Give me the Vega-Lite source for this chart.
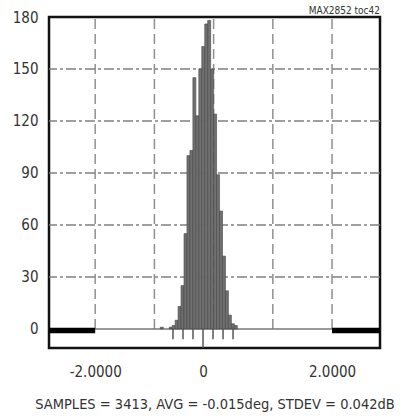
{
  "$schema": "https://vega.github.io/schema/vega-lite/v6.json",
  "width": 331,
  "height": 331,
  "autosize": "none",
  "padding": {"left": 49, "top": 17, "right": 36, "bottom": 68},
  "config": {
    "font": "DejaVu Sans Condensed, Roboto, sans-serif",
    "view": {"stroke": "#111", "strokeWidth": 2.5},
    "axis": {"labelFont": "DejaVu Sans Condensed, Roboto, sans-serif", "titleFont": "DejaVu Sans Condensed, Roboto, sans-serif"}
  },
  "title": {"text": "MAX2852 toc42", "anchor": "end", "frame": "group", "fontSize": 10, "fontWeight": "normal", "color": "#333", "offset": -6, "font": "DejaVu Sans Condensed, Roboto, sans-serif"},
  "datasets": {
    "hist": [
      {"x0": -0.90, "x1": -0.85, "count": 1},
      {"x0": -0.75, "x1": -0.70, "count": 1},
      {"x0": -0.70, "x1": -0.65, "count": 2},
      {"x0": -0.65, "x1": -0.60, "count": 5},
      {"x0": -0.60, "x1": -0.55, "count": 13},
      {"x0": -0.55, "x1": -0.50, "count": 25},
      {"x0": -0.50, "x1": -0.45, "count": 55},
      {"x0": -0.45, "x1": -0.40, "count": 100},
      {"x0": -0.40, "x1": -0.35, "count": 103},
      {"x0": -0.35, "x1": -0.30, "count": 145},
      {"x0": -0.30, "x1": -0.25, "count": 123},
      {"x0": -0.25, "x1": -0.20, "count": 150},
      {"x0": -0.20, "x1": -0.15, "count": 163},
      {"x0": -0.15, "x1": -0.10, "count": 176},
      {"x0": -0.10, "x1": -0.05, "count": 178},
      {"x0": -0.05, "x1": 0.00, "count": 150},
      {"x0": 0.00, "x1": 0.05, "count": 124},
      {"x0": 0.05, "x1": 0.10, "count": 89},
      {"x0": 0.10, "x1": 0.15, "count": 68},
      {"x0": 0.15, "x1": 0.20, "count": 42},
      {"x0": 0.20, "x1": 0.25, "count": 22},
      {"x0": 0.25, "x1": 0.30, "count": 8},
      {"x0": 0.30, "x1": 0.35, "count": 3},
      {"x0": 0.35, "x1": 0.40, "count": 2}
    ],
    "vgrid": [
      {"gx": -2, "gy0": 0, "gy1": 180}, {"gx": -1, "gy0": 0, "gy1": 180}, {"gx": 0, "gy0": 0, "gy1": 180},
      {"gx": 1, "gy0": 0, "gy1": 180}, {"gx": 2, "gy0": 0, "gy1": 180}
    ],
    "hgrid": [{"gy": 30}, {"gy": 60}, {"gy": 90}, {"gy": 120}, {"gy": 150}],
    "base": [{"bx0": -2, "bx1": 2, "by": 0}],
    "overflow": [{"ox0": -2.78, "ox1": -2, "oy": 0}, {"ox0": 2, "ox1": 2.81, "oy": 0}],
    "ticks": [
      {"tx": -0.686, "ty0": 0, "ty1": -6},
      {"tx": -0.517, "ty0": 0, "ty1": -6},
      {"tx": -0.348, "ty0": 0, "ty1": -6},
      {"tx": -0.179, "ty0": 0, "ty1": -11},
      {"tx": -0.010, "ty0": 0, "ty1": -6},
      {"tx": 0.159, "ty0": 0, "ty1": -6},
      {"tx": 0.328, "ty0": 0, "ty1": -6}
    ]
  },
  "layer": [
    {
      "data": {"name": "vgrid"},
      "mark": {"type": "rule", "color": "#909090", "strokeWidth": 1.5, "strokeDash": [10, 5]},
      "encoding": {
        "x": {"field": "gx", "type": "quantitative", "scale": {"domain": [-2.78, 2.81], "nice": false, "zero": false},
          "axis": {"values": [-2, -0.179, 2], "domain": false, "ticks": false, "grid": false, "labelFontSize": 15, "labelColor": "#333", "labelPadding": 16,
            "labelExpr": "datum.value == -2 ? '-2.0000' : datum.value == 2 ? '2.0000' : '0'",
            "title": "SAMPLES = 3413, AVG = -0.015deg, STDEV = 0.042dB", "titleFontSize": 14.5, "titleFontWeight": "normal", "titleColor": "#333", "titlePadding": 18}},
        "y": {"field": "gy0", "type": "quantitative", "scale": {"domain": [-11, 180], "nice": false, "zero": false},
          "axis": {"values": [0, 30, 60, 90, 120, 150, 180], "domain": false, "ticks": false, "grid": false, "labelFontSize": 15, "labelColor": "#333", "labelPadding": 11, "title": null}},
        "y2": {"field": "gy1"}
      }
    },
    {
      "data": {"name": "hgrid"},
      "mark": {"type": "rule", "color": "#808080", "strokeWidth": 1.5, "strokeDash": [10, 3, 3, 3]},
      "encoding": {
        "y": {"field": "gy", "type": "quantitative"}
      }
    },
    {
      "data": {"name": "base"},
      "mark": {"type": "rule", "color": "#777", "strokeWidth": 1.5},
      "encoding": {
        "x": {"field": "bx0", "type": "quantitative"},
        "x2": {"field": "bx1"},
        "y": {"field": "by", "type": "quantitative"}
      }
    },
    {
      "data": {"name": "hist"},
      "mark": {"type": "rect", "color": "#707070", "stroke": "#444", "strokeWidth": 0.6},
      "encoding": {
        "x": {"field": "x0", "type": "quantitative"},
        "x2": {"field": "x1"},
        "y": {"field": "count", "type": "quantitative"},
        "y2": {"datum": 0}
      }
    },
    {
      "data": {"name": "ticks"},
      "mark": {"type": "rule", "color": "#555", "strokeWidth": 1.5},
      "encoding": {
        "x": {"field": "tx", "type": "quantitative"},
        "y": {"field": "ty0", "type": "quantitative"},
        "y2": {"field": "ty1"}
      }
    },
    {
      "data": {"name": "overflow"},
      "mark": {"type": "rule", "color": "#000", "strokeWidth": 5.5, "yOffset": 1.5},
      "encoding": {
        "x": {"field": "ox0", "type": "quantitative"},
        "x2": {"field": "ox1"},
        "y": {"field": "oy", "type": "quantitative"}
      }
    }
  ]
}
